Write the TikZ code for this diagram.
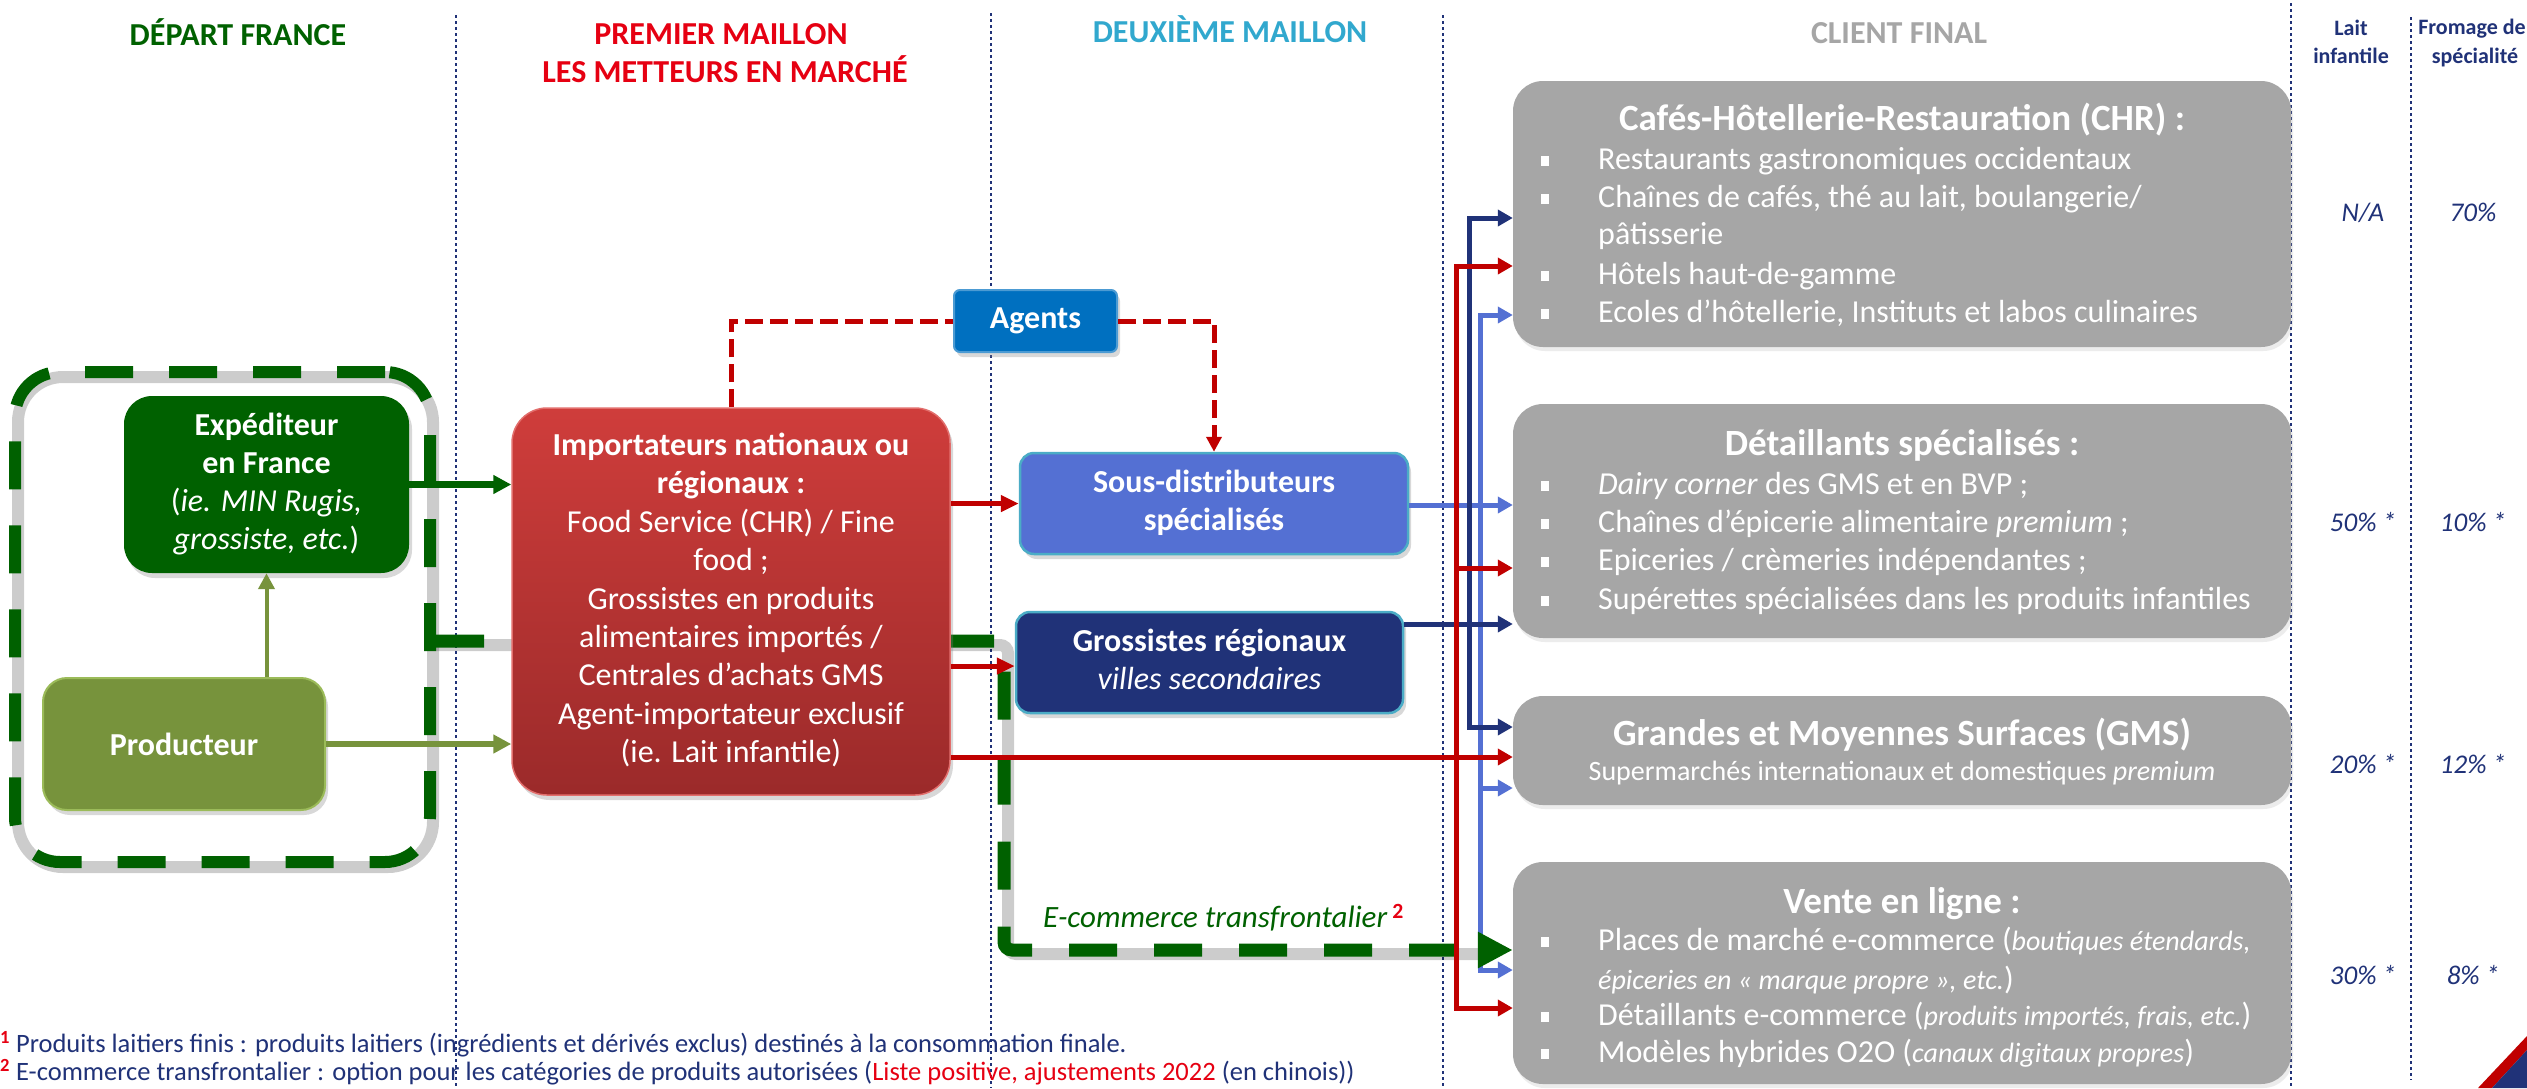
\documentclass[tikz,border=0pt]{standalone}
\usepackage{fontspec}
\setmainfont{Carlito}
\usetikzlibrary{arrows.meta,shadows}
\definecolor{cDGreen}{RGB}{0,97,0}
\definecolor{cOlive}{RGB}{119,147,60}
\definecolor{cOliveB}{RGB}{155,187,89}
\definecolor{cRLine}{RGB}{192,0,0}
\definecolor{cHRed}{RGB}{230,0,18}
\definecolor{cTeal}{RGB}{49,168,206}
\definecolor{cGray}{RGB}{166,166,166}
\definecolor{cNavy}{RGB}{32,50,120}
\definecolor{cMBlue}{RGB}{84,112,211}
\definecolor{cCyan}{RGB}{75,172,198}
\definecolor{cAgent}{RGB}{0,112,192}
\definecolor{cRedTop}{RGB}{207,61,59}
\definecolor{cRedBot}{RGB}{155,42,42}
\definecolor{cRedB}{RGB}{226,110,108}
\newcommand\fsz[2]{\fontsize{#1}{#2}\selectfont}
\newcommand\blt{\makebox[57pt][l]{\rule[4pt]{8pt}{10pt}}}
\newcommand\smit[1]{{\fontsize{28}{34}\selectfont\itshape #1}}
\begin{document}
\begin{tikzpicture}[x=1pt,y=-1pt,
  bx/.style={rectangle, inner sep=0pt, align=center, text=white, drop shadow={shadow xshift=3pt, shadow yshift=-5pt, opacity=0.3}},
  graybox/.style={rectangle, fill=cGray, rounded corners=30pt, minimum width=778pt, inner sep=0pt, drop shadow={shadow xshift=2pt, shadow yshift=-4pt, opacity=0.15}},
  txt/.style={anchor=west, inner sep=0pt, text=white, font=\fsz{32}{38}},
  ttl/.style={inner sep=0pt, text=white, font=\fsz{37}{42}\bfseries},
  hdr/.style={anchor=base, inner sep=0pt, font=\fsz{32}{38}\bfseries},
  colhdr/.style={anchor=base, inner sep=0pt, text=cNavy, font=\fsz{22}{28}\bfseries},
  pct/.style={inner sep=0pt, text=cNavy, font=\fsz{27}{32}\itshape},
  sepline/.style={cNavy, line width=2.5pt, dash pattern=on 2.5pt off 3.5pt},
  rarr/.style={draw=cRLine, line width=5pt, -{Triangle[length=18pt,width=16pt]}},
  busr/.style={draw=cRLine, line width=5pt, -{Triangle[length=15pt,width=16pt]}},
  busn/.style={draw=cNavy, line width=5pt, -{Triangle[length=15pt,width=16pt]}},
  busb/.style={draw=cMBlue, line width=5pt, -{Triangle[length=15pt,width=16pt]}},
  agl/.style={draw=cRLine, line width=5pt, dash pattern=on 18pt off 7pt},
  gshadow/.style={draw=black, opacity=0.2, line width=12pt},
  garr/.style={draw=cDGreen, line width=7pt, -{Triangle[length=18pt,width=18pt]}},
  oarr/.style={draw=cOlive, line width=6pt, -{Triangle[length=18pt,width=18pt]}},
  oarrv/.style={draw=cOlive, line width=4pt, -{Triangle[length=16pt,width=16pt]}},
  fnote/.style={anchor=west, inner sep=0pt, text=cNavy, font=\fsz{26.5}{30}}
]
\fill[white] (0,0) rectangle (2527,1088);
\useasboundingbox (0,0) rectangle (2527,1088);
% separators
\draw[sepline] (456,15) -- (456,1088);
\draw[sepline] (991,13) -- (991,1088);
\draw[sepline] (1443,15) -- (1443,1088);
\draw[sepline] (2291,3) -- (2291,1088);
\draw[sepline] (2411,17) -- (2411,1080);
% headers
\node[hdr,text=cDGreen] (h1) at (238,45) {DÉPART FRANCE};
\node[hdr,text=cHRed] (h2) at (721,44) {PREMIER MAILLON};
\node[hdr,text=cHRed] (h2b) at (725,82) {LES METTEURS EN MARCHÉ};
\node[hdr,text=cTeal] (h3) at (1230,42) {DEUXIÈME MAILLON};
\node[hdr,text=cGray] (h4) at (1899,43) {CLIENT FINAL};
\node[colhdr] (h5) at (2351,35) {Lait};
\node[colhdr] (h5b) at (2351,63) {infantile};
\node[colhdr] (h6) at (2472,34) {Fromage de};
\node[colhdr] (h6b) at (2475,63) {spécialité};
% green dashed box
\draw[gshadow, rounded corners=45pt] (18,377) rectangle (433,867);
\node[draw=cDGreen, line width=12pt, dash pattern=on 48pt off 36pt, rounded corners=45pt, minimum width=415pt, minimum height=490pt, inner sep=0pt] (greenbox) at (222.5,617) {};
% gray client boxes
\node[graybox, minimum height=266pt] (chr) at (1902,214) {};
\node[graybox, minimum height=234pt] (det) at (1902,521) {};
\node[graybox, minimum height=109pt] (gms) at (1902,750.5) {};
\node[graybox, minimum height=222pt] (vente) at (1902,973) {};
% boxes
\node[bx, fill=cDGreen, rounded corners=28pt, minimum width=285pt, minimum height=177pt, font=\fsz{32}{38}] (exp) at (266.5,484.5) {\strut\textbf{Expéditeur}\\\textbf{en France}\\(\textit{ie. MIN Rugis,}\\\textit{grossiste, etc.})\strut};
\node[bx, fill=cOlive, draw=cOliveB, line width=2pt, rounded corners=24pt, minimum width=282pt, minimum height=132pt, font=\fsz{32}{38}\bfseries] (prod) at (184,744) {Producteur};
\node[bx, fill=cAgent, draw=cAgent!70!white, line width=2pt, rounded corners=6pt, minimum width=163pt, minimum height=62pt, font=\fsz{32}{38}\bfseries] (agents) at (1035.5,321) {Agents};
\node[bx, fill=cMBlue, draw=cCyan, line width=2.5pt, rounded corners=14pt, minimum width=388pt, minimum height=101pt, font=\fsz{32}{38}\bfseries] (sous) at (1214,503.5) {\strut Sous-distributeurs\\spécialisés\strut};
\node[bx, fill=cNavy, draw=cCyan, line width=2.5pt, rounded corners=14pt, minimum width=387pt, minimum height=101pt, font=\fsz{32}{38}] (gros) at (1209.5,662.5) {\strut\textbf{Grossistes régionaux}\\\textit{villes secondaires}\strut};
% CHR text
\node[ttl] (chrt) at (1902,122) {\strut Cafés-Hôtellerie-Restauration (CHR) :};
\node[txt] (c1) at (1541,162) {\strut\blt Restaurants gastronomiques occidentaux};
\node[txt] (c2) at (1541,200) {\strut\blt Chaînes de cafés, thé au lait, boulangerie/};
\node[txt] (c3) at (1598,237) {\strut pâtisserie};
\node[txt] (c4) at (1541,277) {\strut\blt Hôtels haut-de-gamme};
\node[txt] (c5) at (1541,315) {\strut\blt Ecoles d’hôtellerie, Instituts et labos culinaires};
% Detaillants text
\node[ttl] (dett) at (1902,447) {\strut Détaillants spécialisés :};
\node[txt] (d1) at (1541,487) {\strut\blt\textit{Dairy corner} des GMS et en BVP ;};
\node[txt] (d2) at (1541,525) {\strut\blt Chaînes d’épicerie alimentaire \textit{premium} ;};
\node[txt] (d3) at (1541,563) {\strut\blt Epiceries / crèmeries indépendantes ;};
\node[txt] (d4) at (1541,602) {\strut\blt Supérettes spécialisées dans les produits infantiles};
% GMS text
\node[ttl] (gmst) at (1902,737) {\strut Grandes et Moyennes Surfaces (GMS)};
\node[txt, anchor=center, font=\fsz{28}{36}] (gmss) at (1902,773) {\strut Supermarchés internationaux et domestiques \textit{premium}};
% Vente text
\node[ttl] (vt) at (1902,905) {\strut Vente en ligne :};
\node[txt] (v1) at (1541,943) {\strut\blt Places de marché e-commerce (\smit{boutiques étendards,}};
\node[txt] (v1b) at (1598,982) {\strut\smit{épiceries en « marque propre », etc.})};
\node[txt] (v2) at (1541,1018) {\strut\blt Détaillants e-commerce (\smit{produits importés, frais, etc.})};
\node[txt] (v3) at (1541,1055) {\strut\blt Modèles hybrides O2O (\smit{canaux digitaux propres})};
% percentages
\node[pct] (p1) at (2363,215) {\strut N/A};
\node[pct] (p2) at (2473,215) {\strut 70\%};
\node[pct] (p3) at (2363,525) {\strut 50\% *};
\node[pct] (p4) at (2473,525) {\strut 10\% *};
\node[pct] (p5) at (2363,767) {\strut 20\% *};
\node[pct] (p6) at (2473,767) {\strut 12\% *};
\node[pct] (p7) at (2363,978) {\strut 30\% *};
\node[pct] (p8) at (2473,978) {\strut 8\% *};
% bus junctions
\coordinate (rj) at (1456,757);
\coordinate (nj) at (1469,624);
\coordinate (bj) at (1480,505);
% blue and navy flows
\draw[busb] (sous.east |- bj) -- (det.west |- bj);
\draw[busb] (bj) |- (chr.west |- 0,315);
\draw[busb] (bj) |- (vente.west |- 0,970);
\draw[busb] (bj |- 0,788) -- (gms.west |- 0,788);
\draw[busn] (gros.east |- nj) -- (det.west |- nj);
\draw[busn] (nj) |- (chr.west |- 0,218);
\draw[busn] (nj) |- (gms.west |- 0,727);
% e-commerce path
\draw[gshadow, rounded corners=8pt] (greenbox.east |- 0,645) -- (1008,645) -- (1008,954) -- (1478,954);
\draw[draw=cDGreen, line width=13pt, dash pattern=on 48pt off 37pt, rounded corners=8pt, -{Triangle[length=35pt,width=34pt]}] (greenbox.east |- 0,641) -- (1004,641) -- (1004,950) -- (vente.west |- 0,950);
\node[anchor=west, inner sep=0pt, text=cDGreen, font=\fsz{31}{38}\itshape] (ecl) at (1043,920) {\strut E-commerce transfrontalier\,\textsuperscript{\textcolor{cHRed}{\upshape\bfseries 2}}};
% red bus
\draw[busr] (rj) |- (chr.west |- 0,266);
\draw[busr] (rj) |- (vente.west |- 0,1008);
\draw[busr] (rj |- 0,568) -- (det.west |- 0,568);
% importateurs
\node[bx, top color=cRedTop, bottom color=cRedBot, draw=cRedB, line width=1.5pt, rounded corners=35pt, minimum width=438pt, minimum height=387pt, font=\fsz{32}{38.4}] (imp) at (731,601.5) {\strut\textbf{Importateurs nationaux ou}\\\textbf{régionaux :}\\Food Service (CHR) / Fine\\food ;\\Grossistes en produits\\alimentaires importés /\\Centrales d’achats GMS\\Agent-importateur exclusif\\(ie. Lait infantile)\strut};
\draw[rarr] (imp.east |- sous.west) -- (sous.west);
\draw[rarr] (imp.east |- 0,666) -- (gros.west |- 0,666);
\draw[busr] (imp.east |- rj) -- (gms.west |- rj);
% agents dashed
\draw[agl] (imp.north) |- (agents.west);
\draw[agl, -{Triangle[length=15pt,width=15pt]}] (agents.east) -| (sous.north);
% first link arrows
\draw[garr] (exp.east) -- (exp.east -| imp.west);
\draw[oarr] (prod.east) -- (prod.east -| imp.west);
\draw[oarrv] (exp.south |- prod.north) -- (exp.south);
% footnotes
\node[fnote] (fn1) at (0,1046) {\strut\textcolor{cHRed}{\textsuperscript{\textbf{1}}} Produits laitiers finis : produits laitiers (ingrédients et dérivés exclus) destinés à la consommation finale.};
\node[fnote] (fn2) at (0,1074) {\strut\textcolor{cHRed}{\textsuperscript{\textbf{2}}} E-commerce transfrontalier : option pour les catégories de produits autorisées (\textcolor{cHRed}{Liste positive, ajustements 2022} (en chinois))};
% logo corner
\fill[cRLine] (2527,1036) -- (2527,1050) -- (2492,1088) -- (2478,1088) -- cycle;
\fill[cNavy] (2527,1050) -- (2527,1088) -- (2492,1088) -- cycle;
\end{tikzpicture}
\end{document}
